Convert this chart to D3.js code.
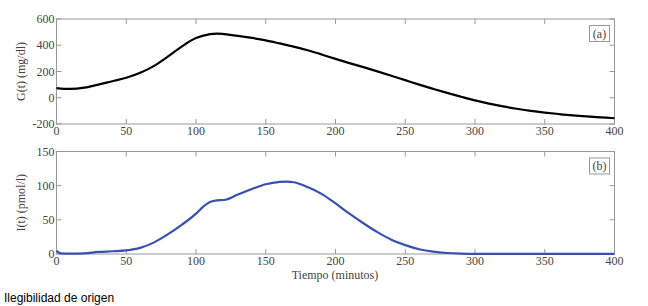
<!DOCTYPE html>
<html><head><meta charset="utf-8">
<script src="https://cdn.jsdelivr.net/npm/d3@7"></script>
<style>
body{margin:0;background:#fff;}
svg{display:block;}
text{font-family:"Liberation Serif","DejaVu Serif",serif;fill:#444;}
</style></head>
<body><svg id="c" width="648" height="306"></svg>
<script>
const timeG = [0,10,20,30,40,50,60,70,80,90,100,110,115,120,130,140,150,160,170,180,190,200,210,220,230,240,250,260,270,280,290,300,310,320,330,340,350,360,370,380,390,400];
const glucose = [74,67,77,100,126,152,190,243,315,392,455,485,489,485,472,456,437,414,390,362,330,296,264,233,201,168,134,100,68,37,8,-20,-45,-66,-84,-100,-113,-124,-134,-142,-149,-156];
const timeI = [0,3,10,20,30,40,50,60,70,80,90,100,105,110,115,120,130,140,150,160,165,170,180,190,200,210,220,230,240,250,260,270,280,290,300,350,400];
const insulin = [4.5,1,0.5,1,3,4,5.3,9,17,29,43,59,69,76,78.5,79,87,95,102,105.5,106,105,98,88,74,59,45,32,21,13,7,3.4,1.5,0.6,0.3,0.3,0.3];
const xTicks = [0,50,100,150,200,250,300,350,400];
const gTicks = [-200,0,200,400,600];
const iTicks = [0,50,100,150];

const svg = d3.select("#c");
const x = d3.scaleLinear().domain([0,400]).range([56.5,614.5]);

function panel(top,bottom,yDom,yTicks,xs,ys,color,ylabel,tag,curve){
  const y = d3.scaleLinear().domain(yDom).range([bottom,top]);
  const g = svg.append("g");
  const frame = "#999";
  g.append("rect").attr("x",x(0)).attr("y",top).attr("width",x(400)-x(0)).attr("height",bottom-top)
    .attr("fill","none").attr("stroke",frame).attr("stroke-width",1);
  const tl = 5;
  xTicks.forEach(t=>{
    g.append("line").attr("x1",x(t)).attr("x2",x(t)).attr("y1",bottom).attr("y2",bottom-tl).attr("stroke",frame);
    g.append("line").attr("x1",x(t)).attr("x2",x(t)).attr("y1",top).attr("y2",top+tl).attr("stroke",frame);
  });
  yTicks.forEach(t=>{
    g.append("line").attr("x1",x(0)).attr("x2",x(0)+tl).attr("y1",y(t)).attr("y2",y(t)).attr("stroke",frame);
    g.append("line").attr("x1",x(400)).attr("x2",x(400)-tl).attr("y1",y(t)).attr("y2",y(t)).attr("stroke",frame);
  });
  g.selectAll(".xl").data(xTicks).enter().append("text")
    .attr("x",d=>x(d)).attr("y",bottom+11).attr("text-anchor","middle").attr("font-size",12).text(d=>d);
  g.selectAll(".yl").data(yTicks).enter().append("text")
    .attr("x",x(0)-2).attr("y",d=>y(d)+4).attr("text-anchor","end").attr("font-size",12).text(d=>d);
  g.append("text").attr("transform",`translate(25,${(top+bottom)/2}) rotate(-90)`)
    .attr("text-anchor","middle").attr("font-size",12).text(ylabel);
  const line = d3.line().x((d,i)=>x(xs[i])).y((d,i)=>y(ys[i])).curve(curve);
  g.append("path").datum(xs).attr("d",line).attr("fill","none").attr("stroke",color).attr("stroke-width",2.2);
  g.append("rect").attr("x",589.5).attr("y",top+6.5).attr("width",20).attr("height",16)
    .attr("fill","#fff").attr("stroke",frame);
  g.append("text").attr("x",599.5).attr("y",top+18.5).attr("text-anchor","middle").attr("font-size",12).text(tag);
}
panel(19,124,[-200,600],gTicks,timeG,glucose,"#000","G(t) (mg/dl)","(a)",d3.curveCatmullRom.alpha(0.5));
panel(151.5,254,[0,150],iTicks,timeI,insulin,"#3a4fb0","I(t) (pmol/l)","(b)",d3.curveMonotoneX);
svg.append("text").attr("x",335).attr("y",279).attr("text-anchor","middle").attr("font-size",12).text("Tiempo (minutos)");
svg.append("text").attr("x",4).attr("y",302).attr("font-size",12)
  .style("font-family","'Liberation Sans',Arial,sans-serif").style("fill","#000").text("Ilegibilidad de origen");
</script></body></html>
